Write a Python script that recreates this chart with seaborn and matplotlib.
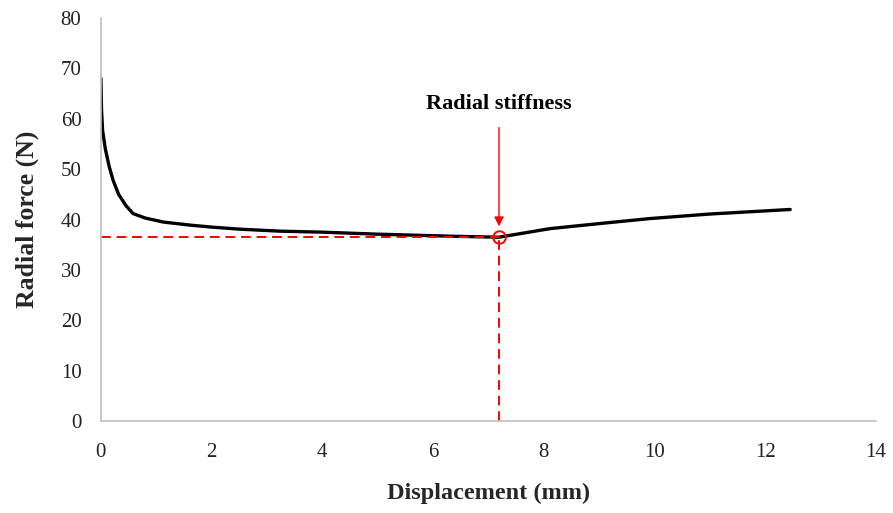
import matplotlib
matplotlib.use("Agg")
import matplotlib.pyplot as plt
import seaborn as sns
import pandas as pd

displacement = [0.0, 0.01, 0.03, 0.08, 0.15, 0.22, 0.32, 0.45, 0.58, 0.8, 1.13, 1.61, 2.0, 2.5,
                3.23, 4.0, 5.0, 6.0, 6.3, 7.19, 8.11, 9.0, 9.92, 11.0, 12.45]
force = [68.0, 62.0, 57.7, 54.0, 50.5, 47.8, 45.0, 42.8, 41.2, 40.3, 39.5, 38.9, 38.5, 38.1,
         37.7, 37.5, 37.1, 36.8, 36.7, 36.5, 38.2, 39.2, 40.2, 41.1, 42.0]

stiff_x = 7.19
stiff_y = 36.5
xticks = [0, 2, 4, 6, 8, 10, 12, 14]
yticks = [0, 10, 20, 30, 40, 50, 60, 70, 80]

sns.set_theme(style="white")
plt.rcParams['font.family'] = ['Liberation Serif', 'DejaVu Serif']

df = pd.DataFrame({"Displacement": displacement, "Force": force})

fig = plt.figure(figsize=(8.93, 5.13), dpi=100)
ax = fig.add_axes([0.113, 0.179, 0.868, 0.786])

sns.lineplot(data=df, x="Displacement", y="Force", ax=ax, color="black", linewidth=2.4, sort=False)

ax.plot([0, stiff_x], [stiff_y, stiff_y], color="red", linestyle=(0, (5, 3)), linewidth=1.4)
ax.plot([stiff_x, stiff_x], [0, stiff_y], color="red", linestyle=(0, (5, 3)), linewidth=1.4)
ax.plot([stiff_x], [stiff_y], marker="o", markersize=9, markerfacecolor="none",
        markeredgecolor="red", markeredgewidth=1.4, linestyle="none")

ax.annotate("", xy=(stiff_x, stiff_y + 1.6), xytext=(stiff_x, 58.8),
            arrowprops=dict(arrowstyle="-|>", color="red", lw=1.0, mutation_scale=14))
ax.text(stiff_x, 62.9, "Radial stiffness", ha="center", va="center",
        fontsize=16, fontweight="bold", color="black")

ax.set_xlim(0, 14)
ax.set_ylim(0, 80)
ax.set_xticks(xticks)
ax.set_yticks(yticks)
ax.tick_params(axis="x", labelsize=15, length=0, pad=16, colors="#222222")
ax.tick_params(axis="y", labelsize=15, length=0, pad=14, colors="#222222")
for s in ["top", "right"]:
    ax.spines[s].set_visible(False)
for s in ["left", "bottom"]:
    ax.spines[s].set_color("#bfbfbf")
    ax.spines[s].set_linewidth(1.2)

ax.set_xlabel("Displacement (mm)", fontsize=17.5, fontweight="bold")
ax.set_ylabel("Radial force (N)", fontsize=18.5, fontweight="bold")
ax.xaxis.set_label_coords(0.5, -0.153)
ax.yaxis.set_label_coords(-0.08, 0.5)
ax.grid(False)

fig.savefig("out.png", dpi=100)
